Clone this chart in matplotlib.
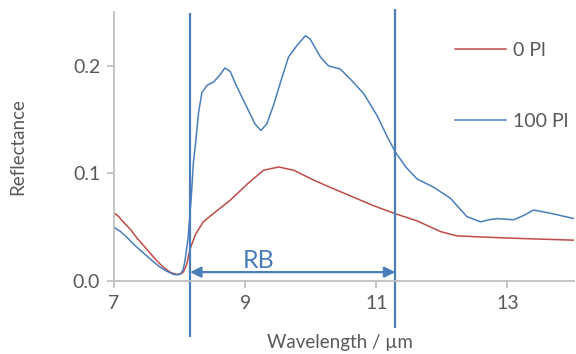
import matplotlib
matplotlib.use('Agg')
from matplotlib import pyplot as plt

plt.rcParams['font.family'] = ['Lato', 'DejaVu Sans']

# 0 Pl
wl_0 = [7.0, 7.07, 7.14, 7.25, 7.35, 7.45, 7.55, 7.65, 7.75, 7.86, 7.96, 8.02, 8.06, 8.11, 8.16,
        8.24, 8.36, 8.52, 8.77, 9.03, 9.28, 9.51, 9.74, 10.04, 10.3, 10.65, 10.96, 11.27,
        11.62, 11.98, 12.23, 12.6, 12.99, 13.5, 14.02]
refl_0 = [0.0633, 0.060, 0.055, 0.048, 0.040, 0.033, 0.026, 0.019, 0.013, 0.008, 0.0062, 0.0068,
          0.0086, 0.016, 0.030, 0.043, 0.055, 0.063, 0.075, 0.090, 0.103, 0.106, 0.103, 0.094,
          0.087, 0.078, 0.070, 0.063, 0.056, 0.046, 0.042, 0.041, 0.040, 0.039, 0.038]

# 100 Pl
wl_100 = [7.0, 7.1, 7.19, 7.32, 7.45, 7.58, 7.7, 7.81, 7.91, 7.97, 8.01, 8.05, 8.08, 8.13, 8.18,
          8.21, 8.25, 8.29, 8.34, 8.42, 8.52, 8.62, 8.69, 8.77, 8.87, 9.03, 9.15, 9.24, 9.33,
          9.43, 9.53, 9.66, 9.79, 9.92, 9.99, 10.15, 10.27, 10.45, 10.6, 10.81, 11.01, 11.16,
          11.29, 11.45, 11.62, 11.88, 12.13, 12.38, 12.59, 12.72, 12.84, 13.1, 13.25, 13.4,
          13.66, 14.02]
refl_100 = [0.050, 0.046, 0.041, 0.033, 0.026, 0.019, 0.013, 0.009, 0.0062, 0.0058, 0.0065,
            0.010, 0.018, 0.040, 0.080, 0.110, 0.132, 0.157, 0.175, 0.182, 0.185, 0.192, 0.198,
            0.195, 0.181, 0.161, 0.146, 0.140, 0.146, 0.163, 0.183, 0.208, 0.219, 0.228, 0.225,
            0.208, 0.200, 0.197, 0.188, 0.174, 0.154, 0.135, 0.120, 0.106, 0.095, 0.087, 0.077,
            0.060, 0.055, 0.057, 0.058, 0.057, 0.061, 0.066, 0.063, 0.058]

rb_start, rb_end = 8.16, 11.29

grey = '#595959'
axis_grey = '#BFBFBF'
blue = '#4A7EBB'
red = '#BE4B48'

fig = plt.figure(figsize=(5.76, 3.54), dpi=100)
ax = fig.add_axes([0.198, 0.206, 0.799, 0.76])

ax.plot(wl_0, refl_0, color=red, lw=1.1, label='0 Pl')
ax.plot(wl_100, refl_100, color=blue, lw=1.1, label='100 Pl')

ax.vlines(rb_start, -0.052, 0.249, color=blue, lw=1.6, clip_on=False)
ax.vlines(rb_end, -0.044, 0.253, color=blue, lw=1.6, clip_on=False)
ax.annotate('', xy=(rb_start, 0.0083), xytext=(rb_end, 0.0083),
            arrowprops=dict(arrowstyle='<|-|>', color=blue, lw=1.6,
                            mutation_scale=16, shrinkA=0, shrinkB=0))
ax.text(9.2, 0.0085, 'RB', color=blue, fontsize=18, ha='center', va='bottom')

ax.set_xlim(7, 14.02)
ax.set_ylim(0, 0.25)
ax.set_xticks([7, 9, 11, 13])
ax.set_yticks([0.0, 0.1, 0.2])
ax.set_yticklabels(['0.0', '0.1', '0.2'])

for s in ['top', 'right']:
    ax.spines[s].set_visible(False)
for s in ['left', 'bottom']:
    ax.spines[s].set_color(axis_grey)
    ax.spines[s].set_linewidth(1.3)
ax.tick_params(axis='both', colors=axis_grey, length=5, width=1.3, labelsize=14,
               labelcolor=grey)
ax.tick_params(axis='x', pad=5)
ax.tick_params(axis='y', pad=5)

ax.set_xlabel('Wavelength / µm', fontsize=13.5, color=grey)
ax.set_ylabel('Reflectance', fontsize=13.5, color=grey)
ax.xaxis.set_label_coords(0.49, -0.195)
ax.yaxis.set_label_coords(-0.19, 0.5)

leg = fig.legend(loc='upper left', bbox_to_anchor=(455 / 576, 1 - 42 / 354), frameon=False,
                 fontsize=14, handlelength=2.6, handletextpad=0.36, labelspacing=2.78,
                 labelcolor=grey, borderaxespad=0, borderpad=0)

fig.savefig('out.png', dpi=100)
